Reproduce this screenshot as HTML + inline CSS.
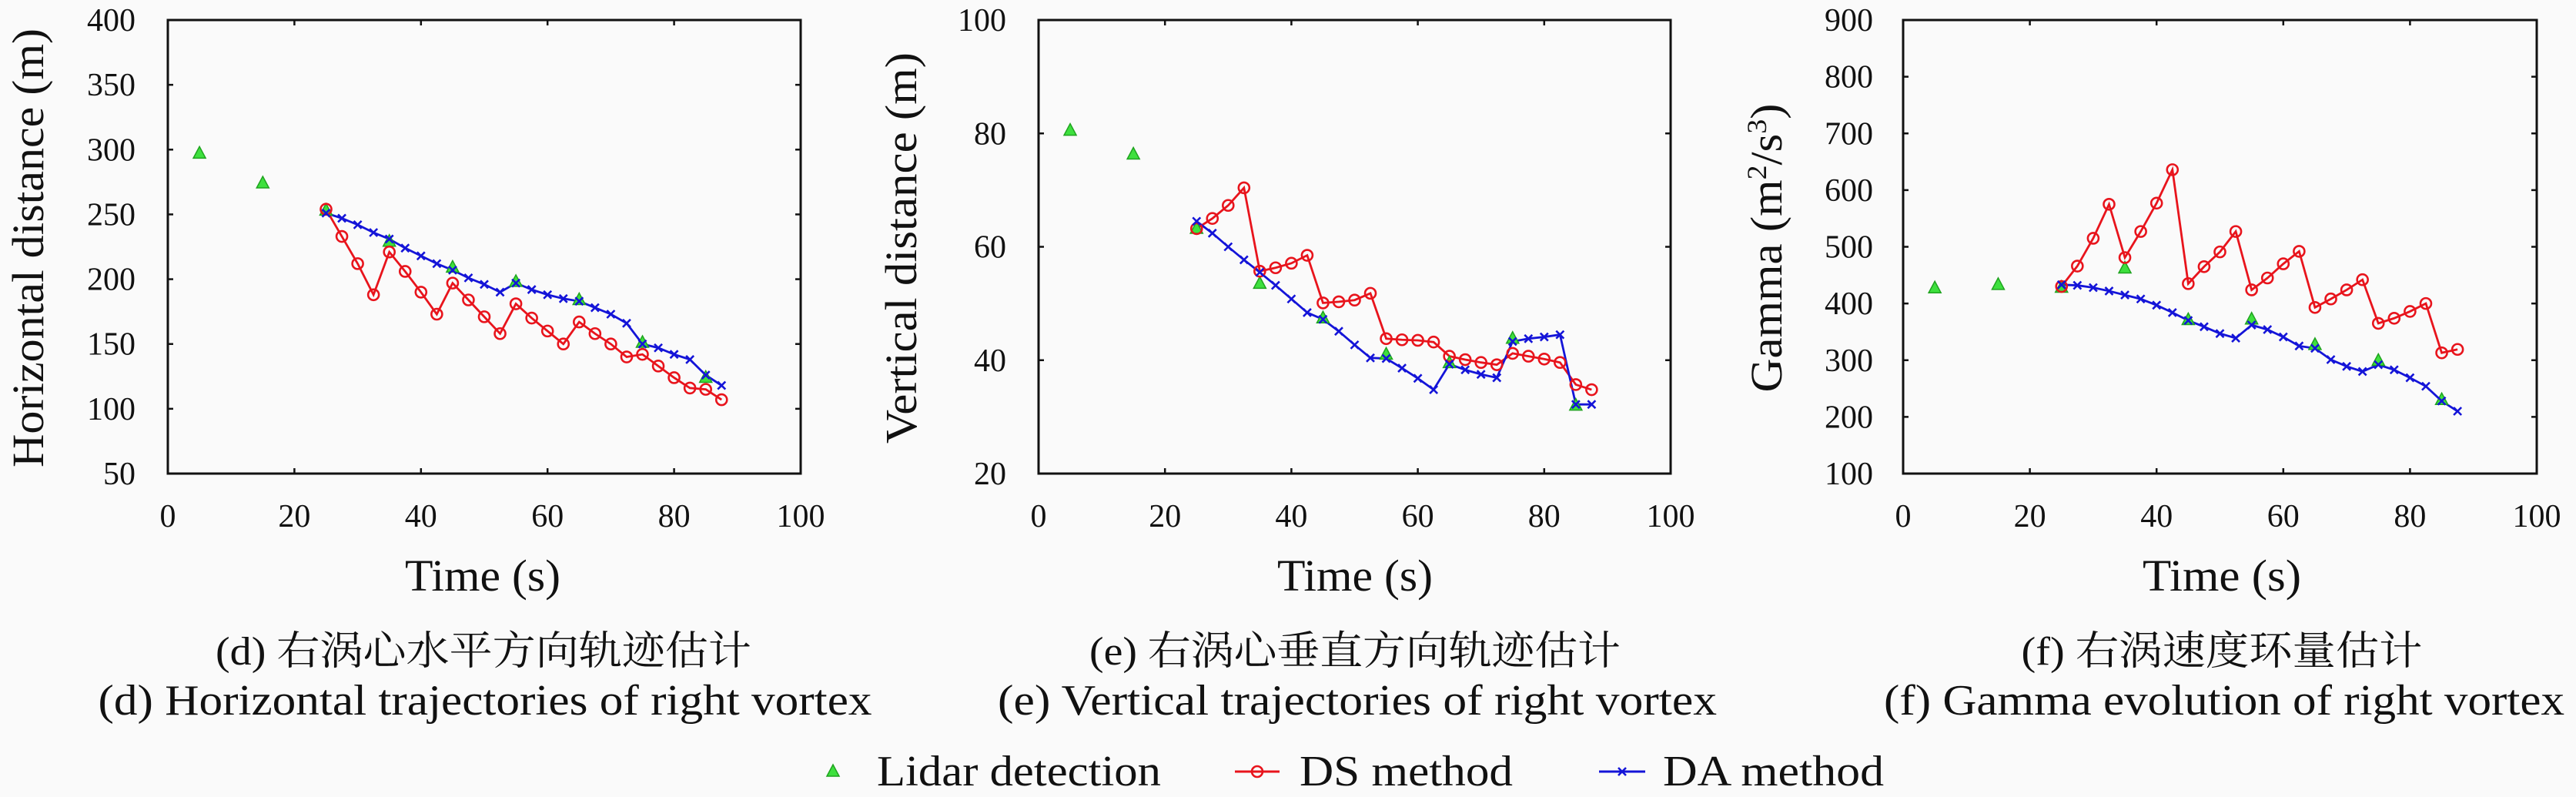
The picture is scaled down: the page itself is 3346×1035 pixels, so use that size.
<!DOCTYPE html>
<html><head><meta charset="utf-8">
<style>
html,body{margin:0;padding:0;background:#fafafa;}
svg{display:block;}
text{font-family:"Liberation Serif","Noto Serif CJK SC",serif;fill:#111;}
</style></head>
<body>
<svg id="fig" width="3346" height="1035" viewBox="0 0 3346 1035" xmlns="http://www.w3.org/2000/svg">
<rect width="3346" height="1035" fill="#fafafa"/>
</svg>
<script>
const times = [25,27.5,30,32.5,35,37.5,40,42.5,45,47.5,50,52.5,55,57.5,60,62.5,65,67.5,70,72.5,75,77.5,80,82.5,85,87.5];
const lidarTimes = [5,15,25,35,45,55,65,75,85];
const xTicks = [0,20,40,60,80,100];

const hLidar = [297,274,253,229,209,198,184,151,124];
const hDS = [254,233,212,188,221,206,190,173,197,184,171,158,181,170,160,150,167,158,150,140,142,133,124,116,115,107];
const hDA = [251,247,242,236,231,224,218,212,207,201,196,190,197,192,188,185,183,178,173,166,150,147,142,138,126,118];
const hTicks = [50,100,150,200,250,300,350,400];

const vLidar = [80.5,76.3,63.2,53.5,47.4,41,39.5,43.8,32];
const vDS = [63.2,65,67.3,70.4,55.7,56.3,57.1,58.5,50.1,50.3,50.6,51.8,43.8,43.6,43.5,43.2,40.7,40.1,39.6,39.2,41.2,40.7,40.2,39.6,35.7,34.8];
const vDA = [64.5,62.4,60,57.7,55.5,53.2,50.8,48.4,47.2,45.1,42.7,40.4,40.3,38.6,36.8,34.8,39.3,38.3,37.5,36.9,43.3,43.8,44.1,44.5,32.2,32.2];
const vTicks = [20,40,60,80,100];

const gLidar = [427,433,428,462,371,372,327,299,230];
const gDS = [430,466,515,575,481,527,577,636,435,465,491,527,424,445,470,492,393,408,424,442,365,374,386,400,313,319];
const gDA = [433,432,428,422,415,408,397,384,370,359,347,339,362,354,341,325,321,301,289,280,292,283,269,254,228,210];
const gTicks = [100,200,300,400,500,600,700,800,900];

const NS = "http://www.w3.org/2000/svg";
const svg = document.getElementById('fig');
function mk(tag, attrs, parent){
  const e = document.createElementNS(NS, tag);
  for (const k in attrs) e.setAttribute(k, attrs[k]);
  (parent||svg).appendChild(e);
  return e;
}

const panels = [
  {key:'horizontal', x0:218, x1:1040, ymin:50, ymax:400, ticks:hTicks, lidar:hLidar, ds:hDS, da:hDA, tickEnd:176,
   ylab:'Horizontal distance (m)', ylx:36, yly:322, ylen:570,
   tx:627, tlen:202, cn:'(d) 右涡心水平方向轨迹估计', cnx:628, cnlen:696, en:'(d) Horizontal trajectories of right vortex', enx:630, enlen:1005},
  {key:'vertical', x0:1349, x1:2170, ymin:20, ymax:100, ticks:vTicks, lidar:vLidar, ds:vDS, da:vDA, tickEnd:1307,
   ylab:'Vertical distance (m)', ylx:1170, yly:322, ylen:508,
   tx:1760, tlen:202, cn:'(e) 右涡心垂直方向轨迹估计', cnx:1760, cnlen:690, en:'(e) Vertical trajectories of right vortex', enx:1763, enlen:934},
  {key:'gamma', x0:2472, x1:3295, ymin:100, ymax:900, ticks:gTicks, lidar:gLidar, ds:gDS, da:gDA, tickEnd:2433,
   ylab:'', ylx:2294, yly:322, ylen:375,
   tx:2886, tlen:206, cn:'(f) 右涡速度环量估计', cnx:2886, cnlen:521, en:'(f) Gamma evolution of right vortex', enx:2889, enlen:884}
];
const yTop = 26, yBot = 615;

function triangle(g, x, y, name){
  const t = mk('path', {d:`M${x},${y-9} L${x+8},${y+6} L${x-8},${y+6} Z`, fill:'#3ee03e', stroke:'#1fa31f', 'stroke-width':1.5}, g);
  
  
  return t;
}
function circ(g, x, y, name){
  const c = mk('circle', {cx:x, cy:y, r:7, fill:'none', stroke:'#e8141c', 'stroke-width':2.6}, g);
  
  
  return c;
}
function cross(g, x, y, name){
  const c = mk('path', {d:`M${x-5},${y-5} L${x+5},${y+5} M${x-5},${y+5} L${x+5},${y-5}`, stroke:'#1414d8', 'stroke-width':2.6}, g);
  
  
  return c;
}

panels.forEach(p => {
  const xs = v => p.x0 + (v - 0) / 100 * (p.x1 - p.x0);
  const ys = v => yBot - (v - p.ymin) / (p.ymax - p.ymin) * (yBot - yTop);
  const g = mk('g', {});
  
  

  // ticks
  xTicks.forEach(t => {
    const x = xs(t);
    mk('line', {x1:x, x2:x, y1:yBot, y2:yBot-7, stroke:'#111', 'stroke-width':2.5}, g);
    mk('line', {x1:x, x2:x, y1:yTop, y2:yTop+7, stroke:'#111', 'stroke-width':2.5}, g);
    const lb = mk('text', {x:x, y:684, 'font-size':42, 'text-anchor':'middle'}, g);
    lb.textContent = t;
    
    
  });
  p.ticks.forEach(t => {
    const y = ys(t);
    mk('line', {x1:p.x0, x2:p.x0+7, y1:y, y2:y, stroke:'#111', 'stroke-width':2.5}, g);
    mk('line', {x1:p.x1, x2:p.x1-7, y1:y, y2:y, stroke:'#111', 'stroke-width':2.5}, g);
    const lb = mk('text', {x:p.tickEnd, y:y+14, 'font-size':42, 'text-anchor':'end'}, g);
    lb.textContent = t;
    
    
  });
  const box = mk('rect', {x:p.x0, y:yTop, width:p.x1-p.x0, height:yBot-yTop, fill:'none', stroke:'#111', 'stroke-width':3}, g);
  
  

  // series lines
  const dsPath = mk('polyline', {points: times.map((t,i)=>xs(t)+','+ys(p.ds[i])).join(' '), fill:'none', stroke:'#e8141c', 'stroke-width':2.8}, g);
  
  
  const daPath = mk('polyline', {points: times.map((t,i)=>xs(t)+','+ys(p.da[i])).join(' '), fill:'none', stroke:'#1414d8', 'stroke-width':2.8}, g);
  
  
  lidarTimes.forEach((t,i) => triangle(g, xs(t), ys(p.lidar[i]), 'lidar-point'));
  times.forEach((t,i) => circ(g, xs(t), ys(p.ds[i]), 'ds-point'));
  times.forEach((t,i) => cross(g, xs(t), ys(p.da[i]), 'da-point'));

  // y axis label
  let yl;
  if (p.ylab) {
    yl = mk('text', {x:0, y:0, 'font-size':58, 'text-anchor':'middle', textLength:p.ylen, lengthAdjust:'spacingAndGlyphs',
      transform:`translate(${p.ylx+20},${p.yly}) rotate(-90)`}, g);
    yl.textContent = p.ylab;
  } else {
    yl = mk('text', {x:0, y:0, 'font-size':58, 'text-anchor':'middle', textLength:p.ylen, lengthAdjust:'spacingAndGlyphs',
      transform:`translate(${p.ylx+20},${p.yly}) rotate(-90)`}, g);
    yl.innerHTML = 'Gamma (m<tspan font-size="36" dy="-20">2</tspan><tspan dy="20">/s</tspan><tspan font-size="36" dy="-20">3</tspan><tspan dy="20">)</tspan>';
  }
  
  

  const xt = mk('text', {x:p.tx, y:767, 'font-size':58, 'text-anchor':'middle', textLength:p.tlen, lengthAdjust:'spacingAndGlyphs'}, g);
  xt.textContent = 'Time (s)';
  
  

  const cn = mk('text', {x:p.cnx, y:863, 'font-size':52, 'text-anchor':'middle', textLength:p.cnlen, lengthAdjust:'spacingAndGlyphs'});
  cn.textContent = p.cn;
  
  
  const en = mk('text', {x:p.enx, y:928, 'font-size':56, 'text-anchor':'middle', textLength:p.enlen, lengthAdjust:'spacingAndGlyphs'});
  en.textContent = p.en;
  
  
});

// legend
const lg = mk('g', {});


triangle(lg, 1082, 1002, 'legend-lidar-marker');
const l1 = mk('text', {x:1139, y:1020, 'font-size':56, textLength:369, lengthAdjust:'spacingAndGlyphs'}, lg);
l1.textContent = 'Lidar detection';


mk('line', {x1:1604, x2:1662, y1:1002, y2:1002, stroke:'#e8141c', 'stroke-width':3}, lg);
circ(lg, 1633, 1002, 'legend-ds-marker');
const l2 = mk('text', {x:1688, y:1020, 'font-size':56, textLength:277, lengthAdjust:'spacingAndGlyphs'}, lg);
l2.textContent = 'DS method';


mk('line', {x1:2077, x2:2137, y1:1002, y2:1002, stroke:'#1414d8', 'stroke-width':3}, lg);
cross(lg, 2107, 1002, 'legend-da-marker');
const l3 = mk('text', {x:2160, y:1020, 'font-size':56, textLength:287, lengthAdjust:'spacingAndGlyphs'}, lg);
l3.textContent = 'DA method';


</script>
</body></html>
